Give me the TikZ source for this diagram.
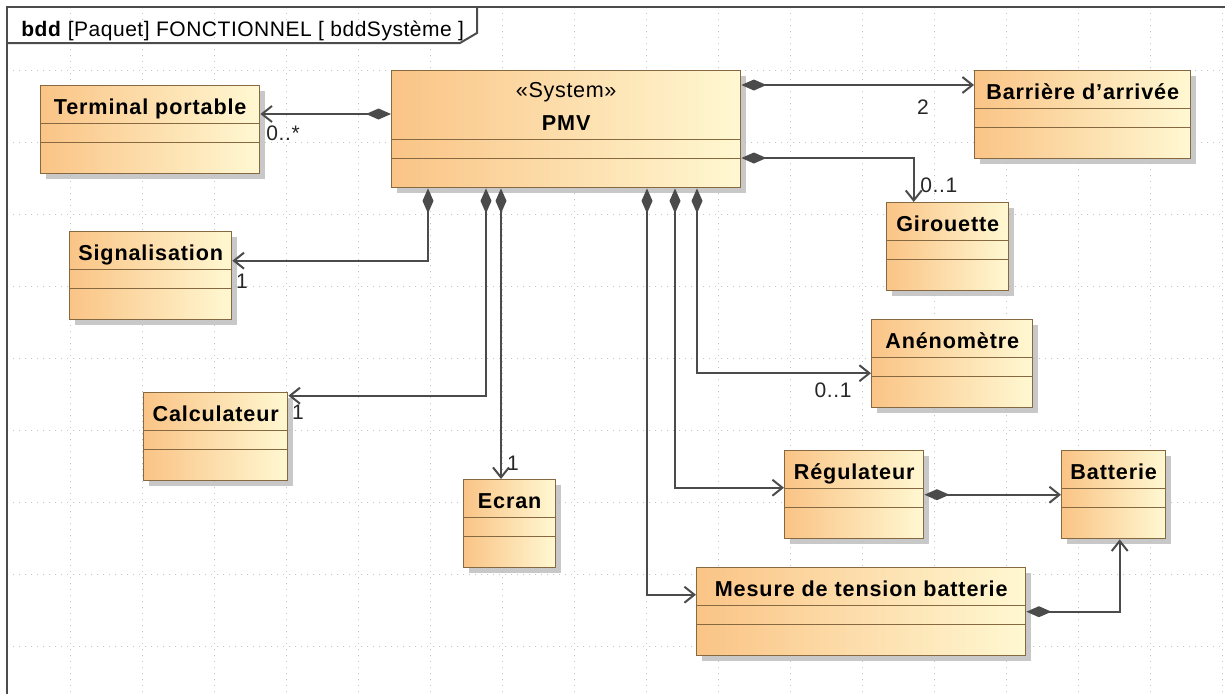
\documentclass[tikz,border=0pt]{standalone}
\usepackage{fontspec}
\setmainfont{Liberation Sans}
\usetikzlibrary{arrows.meta,shadows}

\definecolor{orangeC}{RGB}{250,196,134}
\definecolor{jauneC}{RGB}{255,248,210}
\definecolor{bordC}{RGB}{135,105,65}
\definecolor{lienC}{RGB}{75,75,75}
\definecolor{grilleC}{RGB}{195,195,195}
\newcommand\nomfont{\fontsize{10.8}{13}\selectfont\bfseries\addfontfeature{LetterSpace=4}}
\newcommand\multfont{\fontsize{10.5}{12}\selectfont\addfontfeature{LetterSpace=3}}

\begin{document}
\begin{tikzpicture}[
    x=0.5pt, y=-0.5pt,
    classe/.style={rectangle, draw=bordC, line width=0.7pt, left color=orangeC, right color=jauneC,
        anchor=north west, inner sep=0pt, minimum height=44pt, text height=14.5pt, text depth=29.5pt,
        font=\nomfont, drop shadow={shadow xshift=2.5pt, shadow yshift=-2.5pt, fill=black!30, opacity=0.7},
        path picture={
            \draw[bordC, line width=0.7pt] ([yshift=-#1]path picture bounding box.north west) -- ([yshift=-#1]path picture bounding box.north east);
            \draw[bordC, line width=0.7pt] ([yshift=-#1-9.5pt]path picture bounding box.north west) -- ([yshift=-#1-9.5pt]path picture bounding box.north east);
        }},
    classe/.default=19pt,
    compo/.style={draw=lienC, line width=1pt, arrows={Diamond[length=12.5pt,width=5.5pt]-Straight Barb[length=5pt,width=8pt]}},
    mult/.style={font=\multfont, inner sep=0pt, text=black!85},
    grille/.style={grilleC, line width=0.5pt, dash pattern=on 0.6pt off 2.4pt},
    cadre/.style={draw=black!70, line width=1pt}
]
\useasboundingbox (0,0) rectangle (1225,693);
\fill[white] (0,0) rectangle (1225,693);

% grille de fond
\foreach \gx in {70,142,...,1222} \draw[grille] (\gx,7) -- (\gx,693);
\foreach \gy in {70,142,...,646} \draw[grille] (7,\gy) -- (1225,\gy);

% cadre du diagramme
\draw[cadre] (7,700) -- (7,7) -- (1230,7);
\draw[cadre] (7,43) -- (460,43) -- (477,33) -- (477,7);
\node[anchor=base west, inner sep=0pt, font=\fontsize{10.5}{12}\selectfont\addfontfeature{LetterSpace=2.5}] (titre) at (21,36)
    {\textbf{bdd} [Paquet] FONCTIONNEL [ bddSystème ]};

% blocs
\node[classe=34.5pt, minimum width=174.5pt, text height=30pt, text depth=28.5pt] (pmv) at (391,70)
    {\vbox{\baselineskip=16.5pt\hbox to 0pt{\hss\mdseries\addfontfeature{LetterSpace=3}«System»\hss}\hbox to 0pt{\hss PMV\hss}}};
\node[classe, minimum width=109.5pt] (term) at (40,85) {Terminal portable};
\node[classe, minimum width=108pt] (barr) at (974,70) {Barrière d'arrivée};
\node[classe, minimum width=61pt] (girou) at (886,202) {Girouette};
\node[classe, minimum width=81pt] (sig) at (69,231) {Signalisation};
\node[classe, minimum width=72pt] (calc) at (143,392) {Calculateur};
\node[classe, minimum width=46pt] (ecran) at (463,479) {Ecran};
\node[classe, minimum width=80.5pt] (anemo) at (871,319) {Anénomètre};
\node[classe, minimum width=69.5pt] (regul) at (784,450) {Régulateur};
\node[classe, minimum width=52pt] (batt) at (1061,450) {Batterie};
\node[classe, minimum width=164.5pt] (mesure) at (696,567) {Mesure de tension batterie};

% points d'attache sur PMV
\coordinate (pT) at ([yshift=-22pt]pmv.north west);
\coordinate (pB) at ([yshift=-7.5pt]pmv.north east);
\coordinate (pG) at ([yshift=-44pt]pmv.north east);
\coordinate (pS) at ([xshift=18.5pt]pmv.south west);
\coordinate (pC) at ([xshift=47.5pt]pmv.south west);
\coordinate (pE) at ([xshift=55pt]pmv.south west);
\coordinate (pM) at ([xshift=128pt]pmv.south west);
\coordinate (pR) at ([xshift=142pt]pmv.south west);
\coordinate (pA) at ([xshift=153pt]pmv.south west);

% compositions
\draw[compo] (pT) -- (pT -| term.east);
\draw[compo] (pB) -- (pB -| barr.west);
\draw[compo] (pG) -| ([xshift=-17pt]girou.north);
\draw[compo] (pS) |- ([yshift=7.5pt]sig.east);
\draw[compo] (pC) |- ([yshift=20.5pt]calc.east);
\draw[compo] (pE) -- (pE |- ecran.north);
\draw[compo] (pM) |- ([yshift=8.5pt]mesure.west);
\draw[compo] (pR) |- ([yshift=3.5pt]regul.west);
\draw[compo] (pA) |- ([yshift=-4.75pt]anemo.west);
\draw[compo] (regul.east) -- (batt.west);
\draw[compo] (mesure.east) -| ([xshift=3pt]batt.south);

% multiplicites
\node[mult, anchor=west] (mT) at (266,133) {0..*};
\node[mult] (mB) at (923,107) {2};
\node[mult, anchor=west] (mG) at (920,185) {0..1};
\node[mult] (mS) at (242,281) {1};
\node[mult] (mC) at (298,412) {1};
\node[mult] (mE) at (513,463) {1};
\node[mult] (mA) at (833,390) {0..1};
\end{tikzpicture}
\end{document}
